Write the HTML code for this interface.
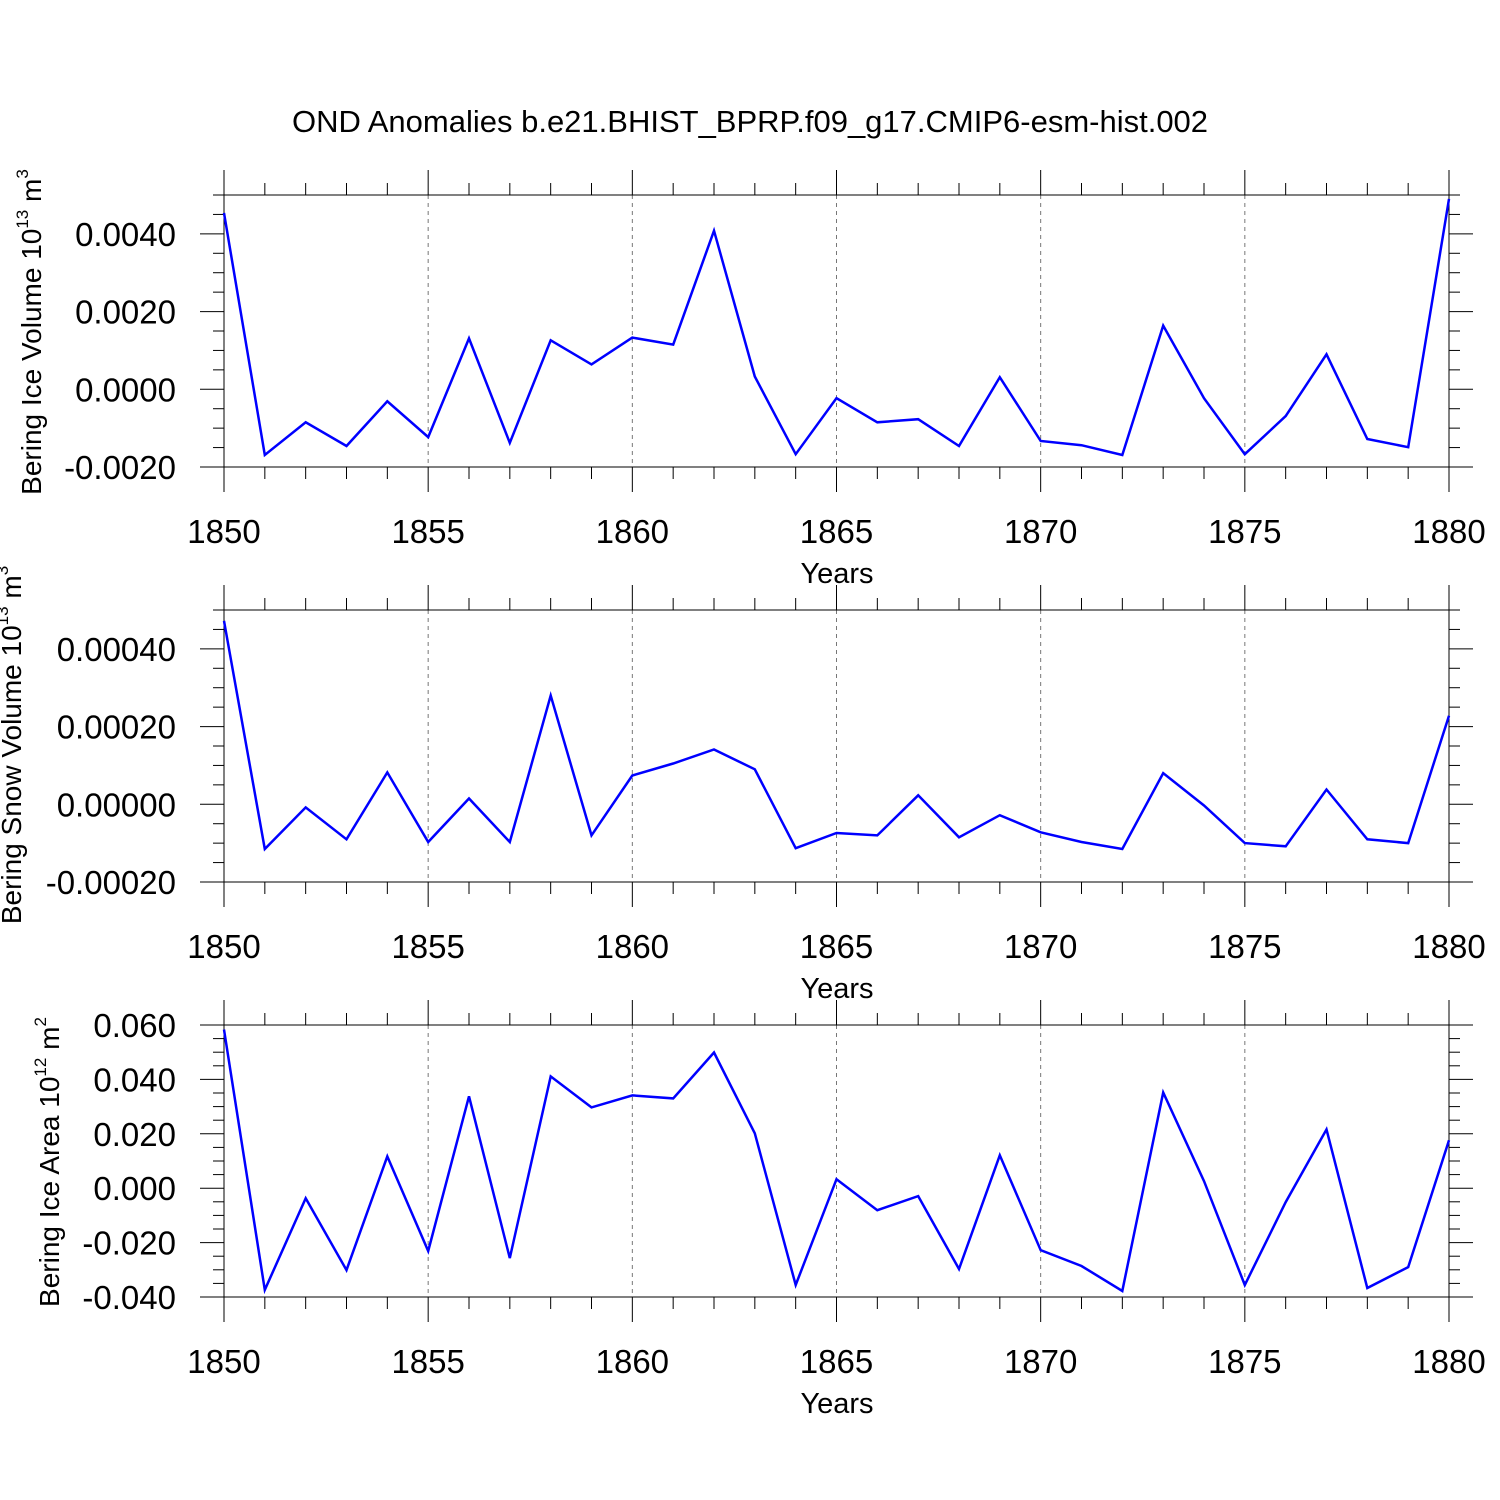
<!DOCTYPE html>
<html><head><meta charset="utf-8"><style>
body{margin:0;background:#fff;}
svg{display:block;font-family:"Liberation Sans",sans-serif;}
</style></head><body>
<svg id="chart" width="1500" height="1500" viewBox="0 0 1500 1500" xmlns="http://www.w3.org/2000/svg">
<rect width="1500" height="1500" fill="#fff"/>
<text x="750" y="132" font-size="31" text-anchor="middle">OND Anomalies b.e21.BHIST_BPRP.f09_g17.CMIP6-esm-hist.002</text>
</svg>
<script>
const years = [];
for (let y = 1850; y <= 1880; y++) years.push(y);
const iceVolume = [0.00454,-0.00169,-0.00085,-0.00146,-0.00031,-0.00123,0.00131,-0.00138,0.00126,0.00064,0.00133,0.00115,0.00408,0.00033,-0.00167,-0.00023,-0.00085,-0.00077,-0.00146,0.00031,-0.00133,-0.00144,-0.00169,0.00164,-0.00023,-0.00167,-0.00069,0.0009,-0.00128,-0.00149,0.0049];
const snowVolume = [0.000472,-0.000115,-0.000008,-0.00009,0.000082,-0.000097,0.000015,-0.000097,0.00028,-0.00008,0.000074,0.000105,0.000141,0.00009,-0.000113,-0.000074,-0.00008,0.000023,-0.000085,-0.000028,-0.000072,-0.000097,-0.000115,0.00008,-0.000003,-0.0001,-0.000108,0.000038,-0.00009,-0.0001,0.000228];
const iceArea = [0.0583,-0.0374,-0.0037,-0.0301,0.0117,-0.0231,0.0338,-0.0257,0.0411,0.0297,0.0341,0.033,0.0499,0.0202,-0.0356,0.0033,-0.0081,-0.0029,-0.0297,0.0121,-0.0228,-0.0286,-0.0378,0.0352,0.0026,-0.0356,-0.0051,0.0216,-0.0367,-0.029,0.0176];
const xTickLabels = ["1850","1855","1860","1865","1870","1875","1880"];
const ticks1 = ["-0.0020","0.0000","0.0020","0.0040"];
const ticks2 = ["-0.00020","0.00000","0.00020","0.00040"];
const ticks3 = ["-0.040","-0.020","0.000","0.020","0.040","0.060"];

const NS = "http://www.w3.org/2000/svg";
const svg = document.getElementById("chart");
const X0 = 224, X1 = 1449;
function xs(yr){ return X0 + (yr - 1850) / 30 * (X1 - X0); }
function mk(tag, attrs, parent){
  const e = document.createElementNS(NS, tag);
  for (const k in attrs) e.setAttribute(k, attrs[k]);
  (parent || svg).appendChild(e);
  return e;
}

function panel(cfg){
  const g = mk("g", {});
  
  
  const ys = v => cfg.bottom - (v - cfg.min) / (cfg.max - cfg.min) * (cfg.bottom - cfg.top);
  for (let yr = 1855; yr <= 1875; yr += 5) {
    const l = mk("line", {x1: xs(yr), x2: xs(yr), y1: cfg.top, y2: cfg.bottom, stroke: "#777", "stroke-width": 1, "stroke-dasharray": "4,4"}, g);
    
    
  }
  const fr = mk("rect", {x: X0, y: cfg.top, width: X1 - X0, height: cfg.bottom - cfg.top, fill: "none", stroke: "#000", "stroke-width": 1}, g);
  
  
  for (let yr = 1850; yr <= 1880; yr++) {
    const major = yr % 5 === 0;
    const len = major ? 25 : 12;
    mk("line", {x1: xs(yr), x2: xs(yr), y1: cfg.bottom, y2: cfg.bottom + len, stroke: "#000"}, g);
    mk("line", {x1: xs(yr), x2: xs(yr), y1: cfg.top, y2: cfg.top - len, stroke: "#000"}, g);
  }
  xTickLabels.forEach(lab => {
    const t = mk("text", {x: xs(+lab), y: cfg.bottom + 76, "font-size": 33, "text-anchor": "middle"}, g);
    t.textContent = lab;
    
    
  });
  const xt = mk("text", {x: 837, y: cfg.bottom + 116, "font-size": 29, "text-anchor": "middle"}, g);
  xt.textContent = "Years";
  
  
  const major = cfg.ticks.map(Number);
  const step = major[1] - major[0];
  const minor = step / 4;
  for (let v = cfg.min; v <= cfg.max + 1e-12; v += minor) {
    const isMaj = major.some(m => Math.abs(m - v) < minor * 0.01);
    const len = isMaj ? 24 : 11;
    const y = ys(v);
    mk("line", {x1: X0, x2: X0 - len, y1: y, y2: y, stroke: "#000"}, g);
    mk("line", {x1: X1, x2: X1 + len, y1: y, y2: y, stroke: "#000"}, g);
  }
  cfg.ticks.forEach(lab => {
    const t = mk("text", {x: 176, y: ys(+lab) + 12, "font-size": 33, "text-anchor": "end"}, g);
    t.textContent = lab;
    
    
  });
  const yt = mk("text", {x: cfg.labelX, y: cfg.labelY, "font-size": 28, "text-anchor": "middle", transform: `rotate(-90 ${cfg.labelX} ${cfg.labelY})`}, g);
  
  
  yt.appendChild(document.createTextNode(cfg.label + " 10"));
  const sup = mk("tspan", {"font-size": 17, dy: -13}, yt);
  sup.textContent = cfg.exp;
  const rest = mk("tspan", {dy: 13}, yt);
  rest.textContent = " m";
  const sup2 = mk("tspan", {"font-size": 17, dy: -13}, yt);
  sup2.textContent = cfg.unitExp;
  const pts = years.map((yr, i) => xs(yr).toFixed(1) + "," + ys(cfg.data[i]).toFixed(1)).join(" ");
  const pl = mk("polyline", {points: pts, fill: "none", stroke: "#0000ff", "stroke-width": 2.5, "stroke-linejoin": "miter"}, g);
  
  
}

panel({name: "ice-volume-panel", top: 195, bottom: 467, min: -0.002, max: 0.005, ticks: ticks1, data: iceVolume, label: "Bering Ice Volume", exp: "13", unitExp: "3", labelX: 41, labelY: 332});
panel({name: "snow-volume-panel", top: 610, bottom: 882, min: -0.0002, max: 0.0005, ticks: ticks2, data: snowVolume, label: "Bering Snow Volume", exp: "13", unitExp: "3", labelX: 21, labelY: 745});
panel({name: "ice-area-panel", top: 1025, bottom: 1297, min: -0.04, max: 0.06, ticks: ticks3, data: iceArea, label: "Bering Ice Area", exp: "12", unitExp: "2", labelX: 59, labelY: 1162});
</script>
</body></html>
